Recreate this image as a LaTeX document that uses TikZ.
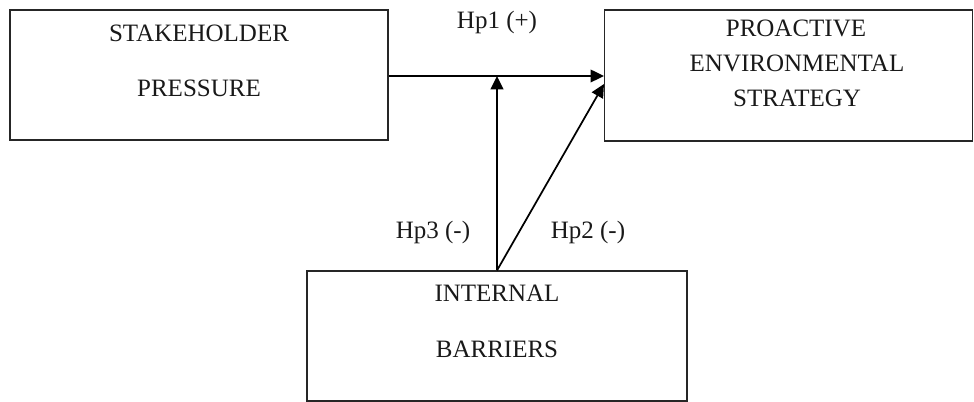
\documentclass[tikz,border=0pt]{standalone}
\usepackage{fontspec}
\setmainfont{Liberation Serif}
\usetikzlibrary{arrows.meta}
\begin{document}
\begin{tikzpicture}[x=0.75pt,y=-0.75pt,
  box/.style={draw=black!85,line width=0.9pt,inner sep=0pt,rectangle},
  txt/.style={inner sep=0pt,font=\fontsize{18.75pt}{22pt}\selectfont,text=black!90},
  arr/.style={line width=1.3pt,-{Triangle[length=10pt,width=9.5pt]}}]
\useasboundingbox (0,0) rectangle (974,402);
\node[box,minimum width=378*0.75pt,minimum height=130*0.75pt] (L) at (199,75) {};
\node[box,minimum width=368*0.75pt,minimum height=131*0.75pt] (R) at (788.5,75.5) {};
\node[box,minimum width=380*0.75pt,minimum height=130*0.75pt] (B) at (497,336) {};
\node[txt] (l1) at (199,33) {STAKEHOLDER};
\node[txt] (l2) at (199,88) {PRESSURE};
\node[txt] (r1) at (796,28) {PROACTIVE};
\node[txt] (r2) at (797,63) {ENVIRONMENTAL};
\node[txt] (r3) at (797,98) {STRATEGY};
\node[txt] (b1) at (497,293) {INTERNAL};
\node[txt] (b2) at (497,349) {BARRIERS};
\node[txt] (h1) at (497,22) {Hp1 (+)};
\node[txt] (h3) at (433,232) {Hp3 (-)};
\node[txt] (h2) at (588,232) {Hp2 (-)};
\coordinate (mid) at (497,76);
\coordinate (rin) at (604,84);
\draw[arr] (L.east |- mid) -- (R.west |- mid);
\draw[arr] (B.north) -- (mid);
\draw[arr] (B.north) -- (rin);
\end{tikzpicture}
\end{document}
